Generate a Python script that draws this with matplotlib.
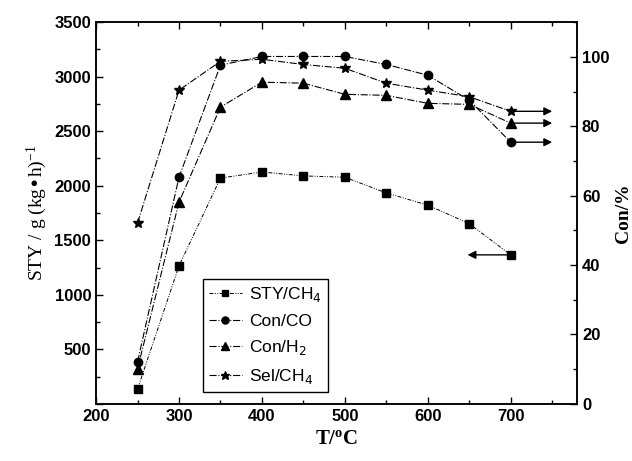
import matplotlib.pyplot as plt
from matplotlib.ticker import MultipleLocator, FuncFormatter

temps = [250, 300, 350, 400, 450, 500, 550, 600, 650, 700]
sty_ch4 = [135, 1265, 2070, 2126, 2090, 2078, 1934, 1822, 1652, 1366]
con_co = [12.1, 65.3, 97.6, 100.1, 100.1, 100.1, 97.8, 94.7, 87.5, 75.4]
con_h2 = [10.1, 58.1, 85.5, 92.7, 92.4, 89.2, 88.9, 86.6, 86.3, 80.9]
sel_ch4 = [52.1, 90.4, 98.7, 99.3, 97.8, 96.7, 92.4, 90.4, 88.5, 84.3]

sans = "Liberation Sans"
serif = "Liberation Serif"

fig = plt.figure(figsize=(6.32, 4.61), dpi=100)
ax = fig.add_axes([0.152, 0.124, 0.761, 0.828])
ax2 = ax.twinx()

line_kw = dict(color="black", linestyle="-.", linewidth=0.8)
l1, = ax.plot(temps, sty_ch4, marker="s", markersize=5.5, label="STY/CH$_4$",
              color="black", linestyle=(0, (4, 1.5, 1, 1.5, 1, 1.5)), linewidth=0.7)
l2, = ax2.plot(temps, con_co, marker="o", markersize=6, label="Con/CO", **line_kw)
l3, = ax2.plot(temps, con_h2, marker="^", markersize=6.5, label="Con/H$_2$", **line_kw)
l4, = ax2.plot(temps, sel_ch4, marker="*", markersize=7.5, label="Sel/CH$_4$", **line_kw)

ax.set_xlim(200, 780)
ax.set_ylim(0, 3500)
ax2.set_ylim(0, 110)

ax.xaxis.set_major_locator(MultipleLocator(100))
ax.xaxis.set_minor_locator(MultipleLocator(50))
ax.yaxis.set_major_locator(MultipleLocator(500))
ax.yaxis.set_minor_locator(MultipleLocator(250))
ax.yaxis.set_major_formatter(FuncFormatter(lambda v, p: "" if v == 0 else f"{v:.0f}"))
ax2.yaxis.set_major_locator(MultipleLocator(20))
ax2.yaxis.set_minor_locator(MultipleLocator(10))

ax.tick_params(which="both", direction="in", top=True, right=False, width=1)
ax.tick_params(which="major", length=5)
ax.tick_params(which="minor", length=3)
ax2.tick_params(which="both", direction="in", width=1)
ax2.tick_params(which="major", length=5)
ax2.tick_params(which="minor", length=3)

for lab in ax.get_xticklabels() + ax.get_yticklabels() + ax2.get_yticklabels():
    lab.set_fontfamily(sans)
    lab.set_fontweight("bold")
    lab.set_fontsize(12)

for a in (ax, ax2):
    for s in a.spines.values():
        s.set_linewidth(1.1)

ax.set_xlabel("T/$\\mathregular{^o}$C", fontfamily=serif, fontweight="bold", fontsize=15)
ax.set_ylabel("STY / g (kg•h)$\\mathregular{^{-1}}$", fontfamily=serif, fontsize=14)
ax2.set_ylabel("Con/%", fontfamily=serif, fontweight="bold", fontsize=14)

# arrows pointing to the axis each series belongs to
arrow = dict(arrowstyle="-|>", color="black", lw=1, mutation_scale=12, shrinkA=0, shrinkB=0)
ax.annotate("", xy=(648, sty_ch4[-1]), xytext=(temps[-1], sty_ch4[-1]), arrowprops=arrow)
for vals in (con_co, con_h2, sel_ch4):
    ax2.annotate("", xy=(750, vals[-1]), xytext=(temps[-1], vals[-1]), arrowprops=arrow)

leg = ax2.legend(handles=[l1, l2, l3, l4], loc="lower left", bbox_to_anchor=(0.222, 0.031),
                 prop={"family": sans, "size": 12.5}, fancybox=False, framealpha=1,
                 edgecolor="black", handlelength=1.9, handletextpad=0.4, labelspacing=0.55,
                 borderpad=0.35, borderaxespad=0, markerscale=0.85)
leg.get_frame().set_linewidth(1)

fig.savefig("out.png", dpi=100)
